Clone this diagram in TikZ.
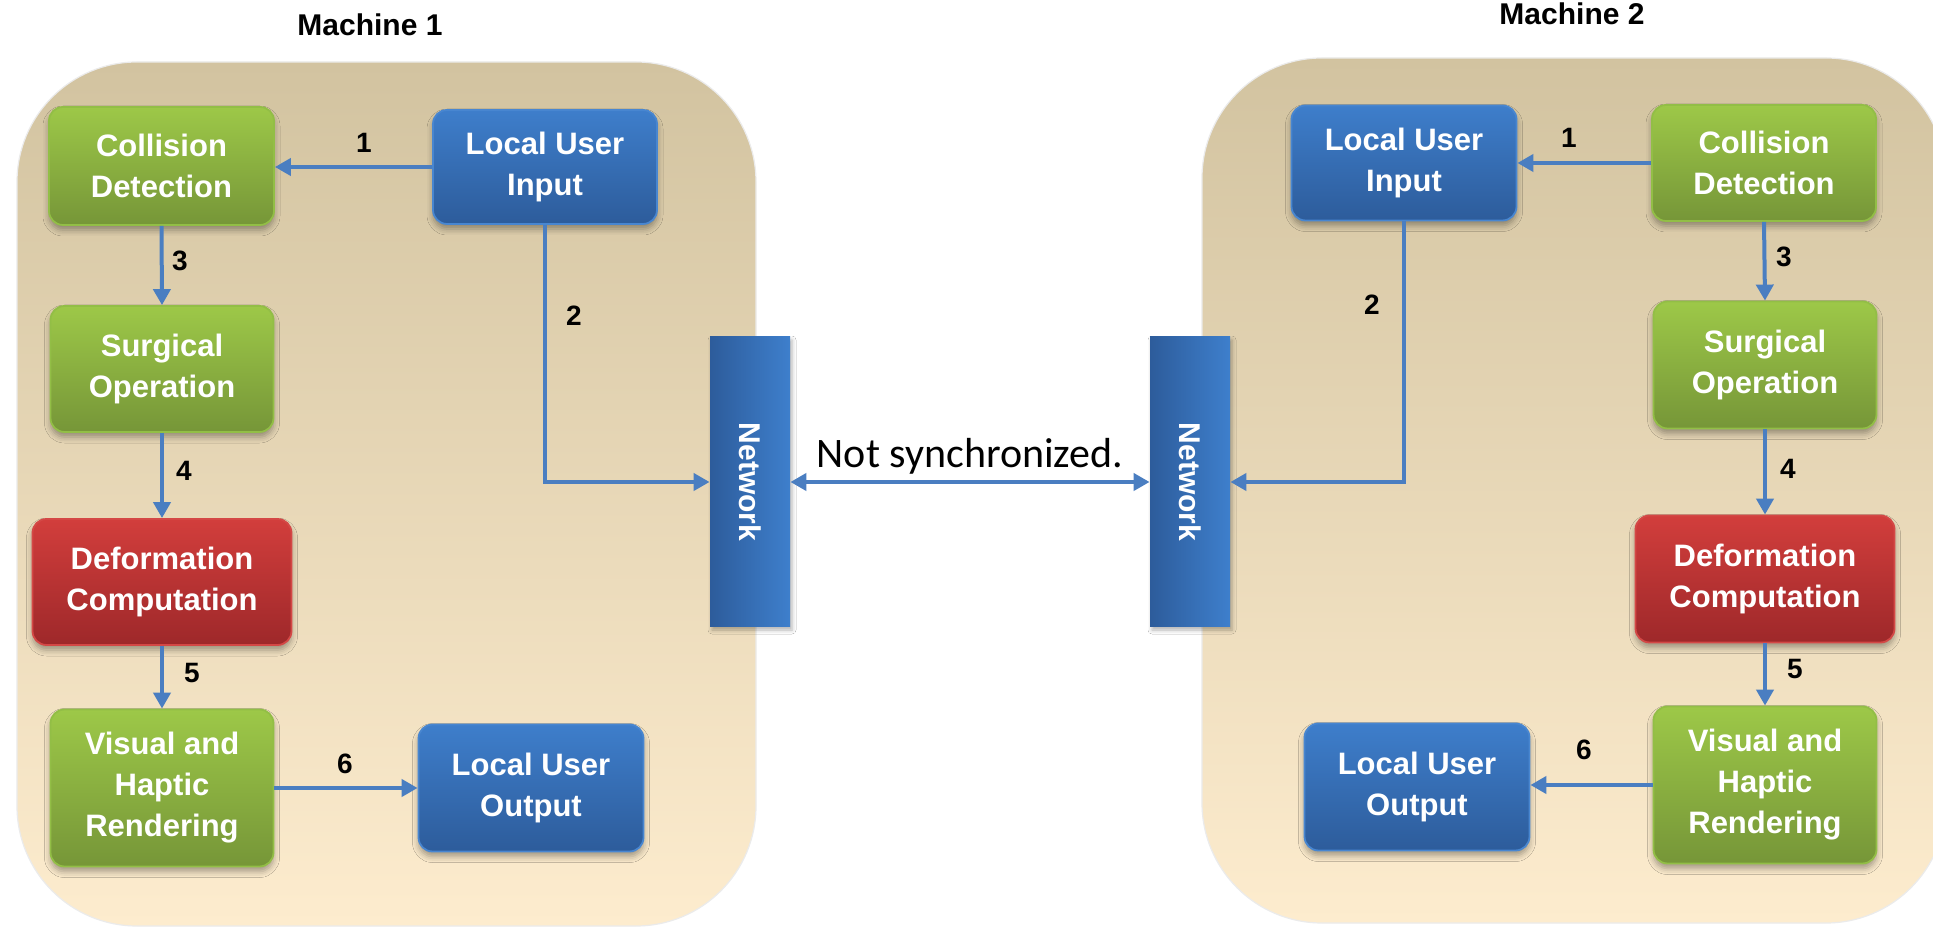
\documentclass[tikz,border=0pt]{standalone}
\usepackage{fontspec}
\usepackage{graphicx}
\setmainfont{Liberation Sans}
\newfontfamily\calibri{Carlito}
\usetikzlibrary{arrows.meta,shadows.blur}

\definecolor{panelTop}{RGB}{210,195,160}
\definecolor{panelBot}{RGB}{253,236,206}
\definecolor{gTop}{RGB}{157,200,72}
\definecolor{gBot}{RGB}{118,150,56}
\definecolor{gEdge}{RGB}{146,190,70}
\definecolor{bTop}{RGB}{62,126,203}
\definecolor{bBot}{RGB}{45,92,155}
\definecolor{bEdge}{RGB}{72,134,208}
\definecolor{rTop}{RGB}{210,62,60}
\definecolor{rBot}{RGB}{158,40,42}
\definecolor{rEdge}{RGB}{212,72,70}
\definecolor{nLeft}{RGB}{45,92,155}
\definecolor{nRight}{RGB}{62,127,204}
\definecolor{arrowc}{RGB}{74,126,193}

\tikzset{
  boxbase/.style={rectangle, rounded corners=7pt, line width=0.9pt, text=white,
    font=\bfseries\fontsize{15.5}{20.5}\selectfont, align=center, inner sep=0pt,
    blur shadow={shadow xshift=0pt, shadow yshift=-2.5pt, shadow blur radius=3pt, shadow opacity=35}},
  gbox/.style={boxbase, draw=gEdge, top color=gTop, bottom color=gBot},
  bbox/.style={boxbase, draw=bEdge, top color=bTop, bottom color=bBot},
  rbox/.style={boxbase, draw=rEdge, top color=rTop, bottom color=rBot},
  netbox/.style={rectangle, inner sep=0pt, left color=nLeft, right color=nRight,
    text=white, font=\bfseries\fontsize{15}{18}\selectfont,
    minimum width=40pt, minimum height=145pt,
    blur shadow={shadow xshift=1pt, shadow yshift=-1.5pt, shadow blur radius=2pt, shadow opacity=30}},
  panel/.style={rounded corners=60pt, top color=panelTop, bottom color=panelBot,
    draw=black!8, line width=0.6pt},
  conn/.style={draw=arrowc, line width=2pt, -{Triangle[length=8pt,width=8.5pt]}},
  lbl/.style={font=\bfseries\fontsize{14}{16}\selectfont, text=black, inner sep=0pt},
  title/.style={font=\bfseries\fontsize{15}{18}\selectfont, text=black, inner sep=0pt}
}

\begin{document}
\begin{tikzpicture}[x=0.5pt,y=-0.5pt]
\useasboundingbox (0,0) rectangle (1933,929);
\fill[white] (0,0) rectangle (1933,929);

% machine backgrounds
\shade[panel] (17,62) rectangle (756,926);
\shade[panel] (1202,58) rectangle (1946,923);

% titles
\node[title] (m1) at (370,25) {Machine 1};
\node[title] (m2) at (1572,14) {Machine 2};

% ---- Machine 1 ----
\node[gbox, minimum width=112.5pt, minimum height=59pt]   (cd1)  at (161.5,166) {Collision\\Detection};
\node[bbox, minimum width=112pt,   minimum height=57pt]   (lui1) at (545,167)   {Local User\\Input};
\node[gbox, minimum width=111.5pt, minimum height=63pt]   (so1)  at (162,369)   {Surgical\\Operation};
\node[rbox, minimum width=129.5pt, minimum height=63pt]   (dc1)  at (162,582)   {Deformation\\Computation};
\node[gbox, minimum width=111.5pt, minimum height=78.5pt] (vhr1) at (162,788)   {Visual and\\Haptic\\Rendering};
\node[bbox, minimum width=112.5pt, minimum height=63.5pt] (luo1) at (531,788)   {Local User\\Output};
\node[netbox] (net1) at (750,482) {\rotatebox{-90}{Network}};

% ---- Machine 2 ----
\node[bbox, minimum width=112.5pt, minimum height=57.5pt] (lui2) at (1404,163)  {Local User\\Input};
\node[gbox, minimum width=112pt,   minimum height=58pt]   (cd2)  at (1764,163)  {Collision\\Detection};
\node[gbox, minimum width=111.5pt, minimum height=63.5pt] (so2)  at (1765,365)  {Surgical\\Operation};
\node[rbox, minimum width=129.5pt, minimum height=63.5pt] (dc2)  at (1765,579)  {Deformation\\Computation};
\node[gbox, minimum width=111.5pt, minimum height=78.5pt] (vhr2) at (1765,785)  {Visual and\\Haptic\\Rendering};
\node[bbox, minimum width=112.5pt, minimum height=63.5pt] (luo2) at (1417,787)  {Local User\\Output};
\node[netbox] (net2) at (1190,482) {\rotatebox{-90}{Network}};

% ---- connectors, machine 1 ----
\draw[conn] (lui1.west) -- (lui1.west -| cd1.east);
\draw[conn] (lui1.south) |- (net1.west);
\draw[conn] (cd1.south) -- (so1.north);
\draw[conn] (so1.south) -- (dc1.north);
\draw[conn] (dc1.south) -- (vhr1.north);
\draw[conn] (vhr1.east) -- (vhr1.east -| luo1.west);

% ---- connectors, machine 2 ----
\draw[conn] (cd2.west) -- (cd2.west -| lui2.east);
\draw[conn] (lui2.south) |- (net2.east);
\draw[conn] (cd2.south) -- (so2.north);
\draw[conn] (so2.south) -- (dc2.north);
\draw[conn] (dc2.south) -- (vhr2.north);
\draw[conn] (vhr2.west) -- (vhr2.west -| luo2.east);

% link between the two network endpoints
\draw[conn, {Triangle[length=8pt,width=8.5pt]}-{Triangle[length=8pt,width=8.5pt]}] (net1.east) -- (net2.west);
\node[anchor=base, inner sep=0pt, font=\calibri\fontsize{21}{24}\selectfont] (sync) at (970,468) {Not synchronized.};

% step numbers
\node[lbl] (l1a) at (364,143) {1};
\node[lbl] (l2a) at (574,316) {2};
\node[lbl] (l3a) at (180,261) {3};
\node[lbl] (l4a) at (184,471) {4};
\node[lbl] (l5a) at (192,673) {5};
\node[lbl] (l6a) at (345,764) {6};

\node[lbl] (l1b) at (1569,138) {1};
\node[lbl] (l2b) at (1372,305) {2};
\node[lbl] (l3b) at (1784,257) {3};
\node[lbl] (l4b) at (1788,469) {4};
\node[lbl] (l5b) at (1795,669) {5};
\node[lbl] (l6b) at (1584,750) {6};
\end{tikzpicture}
\end{document}
